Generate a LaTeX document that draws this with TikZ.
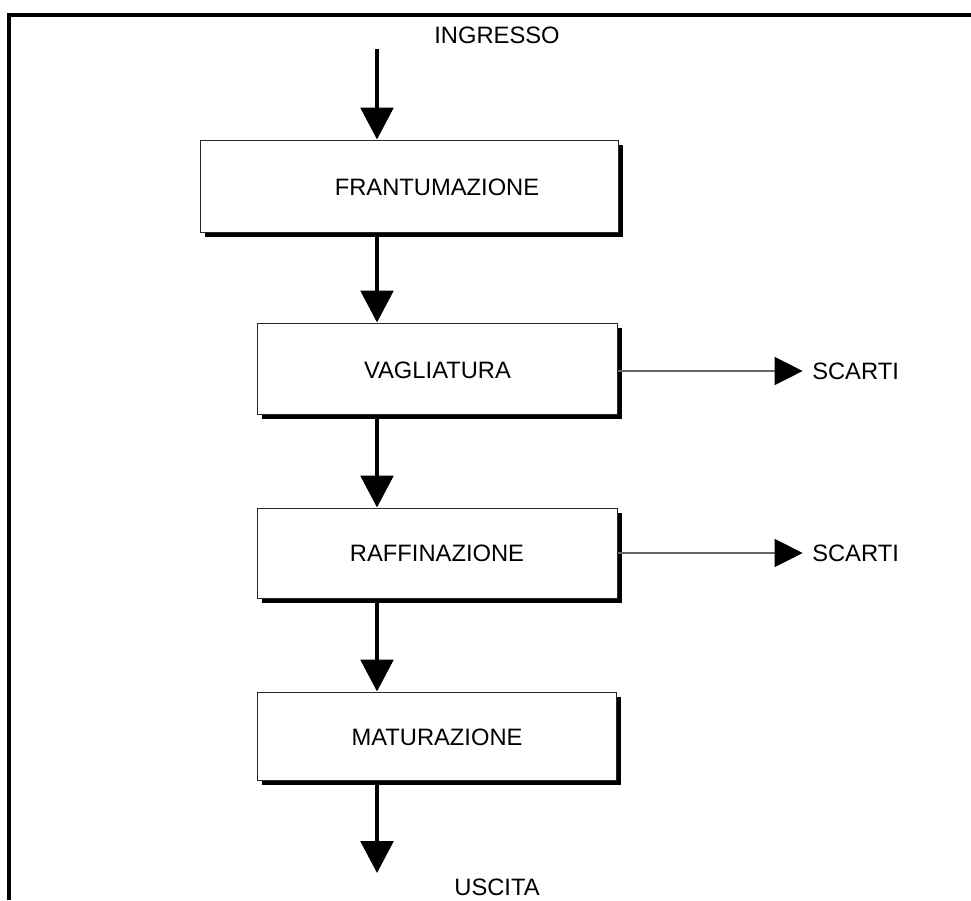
\documentclass[tikz,border=0pt]{standalone}
\usepackage{fontspec}
\setmainfont{Liberation Sans}
\usetikzlibrary{arrows.meta,shadows}
\begin{document}
\begin{tikzpicture}[x=0.75pt,y=-0.75pt,
  box/.style={draw=black!85, line width=0.75pt, fill=white, inner sep=0pt,
    drop shadow={shadow xshift=3.9pt, shadow yshift=-3.9pt, fill=black, opacity=1}},
  txt/.style={inner sep=0pt, font=\fontsize{17.8}{20}\selectfont},
  bigarrow/.style={line width=3pt, -{Triangle[width=24.5pt,length=24pt]}},
  sidearrow/.style={draw=black!60, line width=0.8pt, -{Triangle[width=21pt,length=21pt,color=black]}}
]
\useasboundingbox (0,0) rectangle (971,900);
% frame (top and left edges)
\draw[line width=2.4pt] (9,900) -- (9,15) -- (971,15);

% boxes
\node[box, minimum width=313.5pt, minimum height=69pt] (b1) at (409,186) {};
\node[txt] (t1) at (437,187) {FRANTUMAZIONE};
\node[box, minimum width=270pt, minimum height=68.25pt] (b2) at (437,368.5) {};
\node[txt] (t2) at (437.5,370) {VAGLIATURA};
\node[box, minimum width=270pt, minimum height=67.5pt] (b3) at (437,553) {};
\node[txt] (t3) at (437,553) {RAFFINAZIONE};
\node[box, minimum width=269.25pt, minimum height=66pt] (b4) at (436.5,736) {};
\node[txt] (t4) at (437,737) {MATURAZIONE};

% labels
\node[txt] (ing) at (497,35) {INGRESSO};
\node[txt] (usc) at (497,887) {USCITA};
\node[txt, anchor=west] (s1) at (812,371) {SCARTI};
\node[txt, anchor=west] (s2) at (812,553) {SCARTI};

\coordinate (ax) at (377,0);
\coordinate (in) at (377,49);
\coordinate (out) at (377,873);

% main flow
\draw[bigarrow] (in) -- (b1.north -| ax);
\draw[bigarrow] (b1.south -| ax) -- (b2.north -| ax);
\draw[bigarrow] (b2.south -| ax) -- (b3.north -| ax);
\draw[bigarrow] (b3.south -| ax) -- (b4.north -| ax);
\draw[bigarrow] (b4.south -| ax) -- (out);

% rejects
\draw[sidearrow] (b2.east |- s1.west) -- ([xshift=-7pt]s1.west);
\draw[sidearrow] (b3.east |- s2.west) -- ([xshift=-7pt]s2.west);
\end{tikzpicture}
\end{document}
